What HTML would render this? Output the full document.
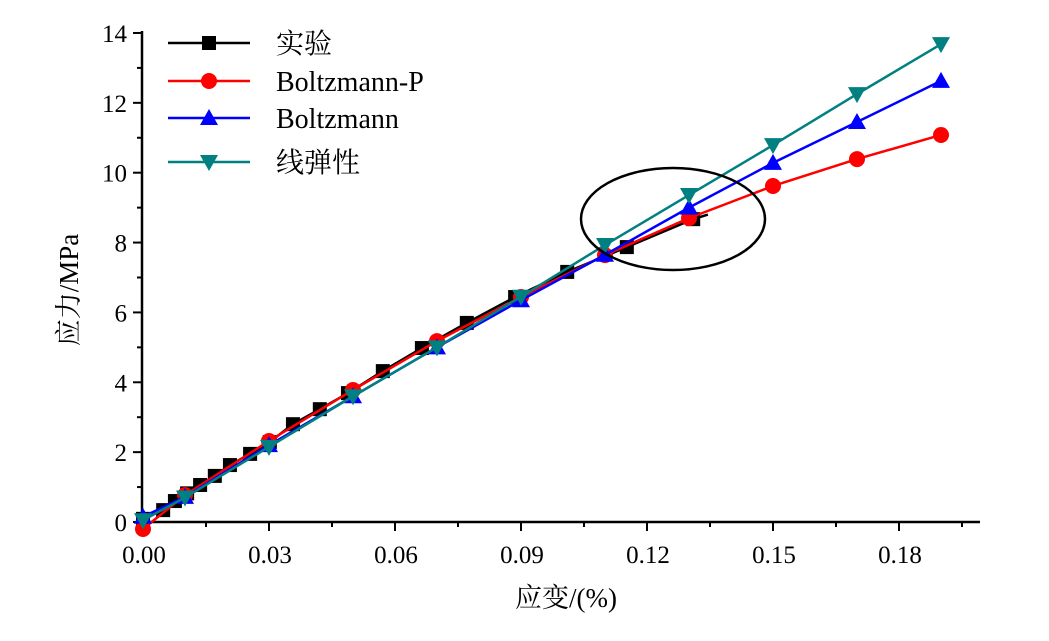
<!DOCTYPE html>
<html><head><meta charset="utf-8"><style>
body{margin:0;background:#fff}
svg text{font-family:"Liberation Serif","Noto Serif CJK SC",serif}
</style></head><body>
<svg id="chart" width="1049" height="636" viewBox="0 0 1049 636" xmlns="http://www.w3.org/2000/svg">
<g id="axes"></g>
<g id="plot"></g>
<ellipse cx="673" cy="219" rx="92" ry="51" fill="none" stroke="#000" stroke-width="2.5"/>
<g id="legend"></g>
<text x="78" y="290" font-size="27" text-anchor="middle" transform="rotate(-90 78 290)">应力/MPa</text>
<text x="566" y="607" font-size="27" text-anchor="middle">应变/(%)</text>
</svg>
<script>
const expX=[0,0.0048,0.0076,0.0105,0.0136,0.0171,0.0207,0.0255,0.0302,0.0357,0.0421,0.0488,0.0571,0.0664,0.0771,0.0886,0.101,0.1152,0.131];
const expY=[0.09,0.34,0.6,0.82,1.06,1.32,1.63,1.95,2.29,2.8,3.23,3.69,4.32,4.98,5.7,6.44,7.16,7.87,8.67];
const modelX=[0,0.01,0.03,0.05,0.07,0.09,0.11,0.13,0.15,0.17,0.19];
const bpY=[-0.2,0.77,2.32,3.78,5.18,6.44,7.64,8.7,9.62,10.39,11.08];
const bY=[0.15,0.72,2.2,3.6,5.0,6.35,7.65,9.0,10.28,11.45,12.63];
const linY=[0.05,0.7,2.15,3.6,5.0,6.45,7.93,9.36,10.79,12.25,13.68];
const xTicks=[0,0.03,0.06,0.09,0.12,0.15,0.18];
const xTickLabels=["0.00","0.03","0.06","0.09","0.12","0.15","0.18"];
const yTicks=[0,2,4,6,8,10,12,14];
const NS="http://www.w3.org/2000/svg";
const X=v=>143+v*4200, Y=v=>522-v*34.93;
function mk(t,a,p){const e=document.createElementNS(NS,t);for(const k in a)e.setAttribute(k,a[k]);p.appendChild(e);return e;}
const axes=document.getElementById('axes'),plot=document.getElementById('plot'),leg=document.getElementById('legend');
let e=mk('line',{x1:142,y1:522,x2:980,y2:522,stroke:'#000','stroke-width':2.5},axes);

e=mk('line',{x1:142,y1:31,x2:142,y2:523,stroke:'#000','stroke-width':2.5},axes);

for(let i=0;i<=13;i++){const v=i*0.015;const x=X(v);if(x>980)break;const maj=i%2==0;
e=mk('line',{x1:x,y1:522,x2:x,y2:522+(maj?9:5),stroke:'#000','stroke-width':2},axes);
}
xTicks.forEach((v,i)=>{e=mk('text',{x:X(v)+1,y:563,'font-size':25,'text-anchor':'middle'},axes);e.textContent=xTickLabels[i];
});
for(let v=0;v<=14;v++){const maj=v%2==0;
e=mk('line',{x1:142-(maj?9:5),y1:Y(v),x2:142,y2:Y(v),stroke:'#000','stroke-width':2},axes);
}
yTicks.forEach(v=>{e=mk('text',{x:127,y:Y(v)+9,'font-size':25,'text-anchor':'end'},axes);e.textContent=String(v);
});
function marker(kind,x,y,c,p){let m;
if(kind==='sq')m=mk('rect',{x:x-7,y:y-7,width:14,height:14,fill:c},p);
else if(kind==='ci')m=mk('circle',{cx:x,cy:y,r:8,fill:c},p);
else if(kind==='up')m=mk('polygon',{points:`${x},${y-9} ${x-9},${y+7} ${x+9},${y+7}`,fill:c},p);
else m=mk('polygon',{points:`${x},${y+9} ${x-9},${y-7} ${x+9},${y-7}`,fill:c},p);
return m;}
const series=[
{name:'exp',xs:expX,ys:expY,c:'#000',k:'sq',label:'实验',extra:[0.1345,8.8]},
{name:'boltzmann-p',xs:modelX,ys:bpY,c:'#f00',k:'ci',label:'Boltzmann-P'},
{name:'boltzmann',xs:modelX,ys:bY,c:'#00f',k:'up',label:'Boltzmann'},
{name:'linear-elastic',xs:modelX,ys:linY,c:'#008080',k:'dn',label:'线弹性'}];
series.forEach(s=>{const g=mk('g',{},plot);

let pts=s.xs.map((x,i)=>X(x)+','+Y(s.ys[i]));if(s.extra)pts.push(X(s.extra[0])+','+Y(s.extra[1]));
const l=mk('polyline',{points:pts.join(' '),fill:'none',stroke:s.c,'stroke-width':2.5},g);

s.xs.forEach((x,i)=>{const m=marker(s.k,X(x),Y(s.ys[i]),s.c,g);
});});
const ly=[43,81,118,162];
series.forEach((s,i)=>{const g=mk('g',{},leg);

mk('line',{x1:168,y1:ly[i],x2:250,y2:ly[i],stroke:s.c,'stroke-width':2.5},g);
marker(s.k,209,ly[i],s.c,g);
const t=mk('text',{x:276,y:ly[i]+10,'font-size':28},g);t.textContent=s.label;});
</script>
</body></html>
